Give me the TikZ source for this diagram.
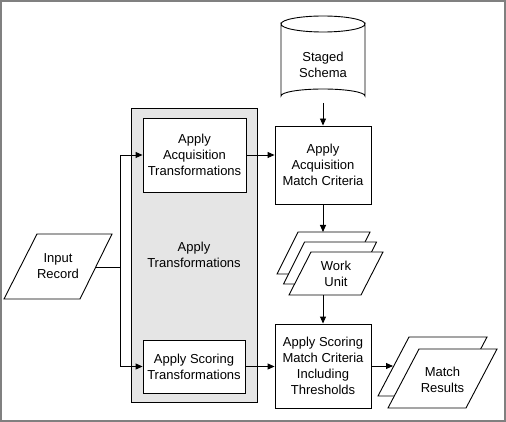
\documentclass[tikz,border=0pt]{standalone}
\usepackage{fontspec}
\setmainfont{Liberation Sans}
\usetikzlibrary{arrows.meta,positioning}

\begin{document}
\begin{tikzpicture}[x=1pt,y=-1pt,line width=.9pt,
  every node/.style={font=\fontsize{13}{16}\selectfont,align=center},
  box/.style={draw,fill=white,inner sep=0pt},
  arr/.style={-{Triangle[length=7pt,width=6pt]}}]
\useasboundingbox (0,0) rectangle (506,422);
\draw[gray,line width=2pt] (1,1) rectangle (505,421);
% staged schema
\draw[fill=white] (281,24) -- (281,96) arc[start angle=180,end angle=360,x radius=42,y radius=7]
  -- (365,24) arc[start angle=0,end angle=180,x radius=42,y radius=8] -- cycle;
\draw (281,24) arc[start angle=180,end angle=360,x radius=42,y radius=8];
\node (ss) at (323,65) {Staged\\Schema};
\coordinate (ss-b) at (323,103);
% transformations
\node[box,fill=black!10,minimum width=126pt,minimum height=294pt] (trans) at (194,255) {Apply\\Transformations};
\node[box,minimum width=103pt,minimum height=74pt] (aat) at (194.5,155) {Apply\\Acquisition\\Transformations};
\node[box,minimum width=102pt,minimum height=53pt] (ast) at (194,366.5) {Apply Scoring\\Transformations};
\node[box,minimum width=96pt,minimum height=78pt] (aamc) at (323,165) {Apply\\Acquisition\\Match Criteria};
\node[box,minimum width=96pt,minimum height=84pt] (asmc) at (323,366) {Apply Scoring\\Match Criteria\\Including\\Thresholds};
% input record
\draw[fill=white] (37,234) -- (112,234) -- (80,299) -- (4,299) -- cycle;
\node (inrec) at (58,266) {Input\\Record};
\coordinate (inrec-e) at (96,267);
\coordinate (split) at (120,267);
% work unit
\draw[fill=white] (298,232) -- (370,232) -- (349,274) -- (277,274) -- cycle;
\draw[fill=white] (304.5,242) -- (376.5,242) -- (355.5,284) -- (283.5,284) -- cycle;
\draw[fill=white] (311,252) -- (383,252) -- (361,295) -- (289,295) -- cycle;
\node (wu) at (336,274) {Work\\Unit};
\coordinate (wu-t) at (323,232);
\coordinate (wu-b) at (323,295);
% match results
\draw[fill=white] (409,337) -- (487,337) -- (456,396) -- (378,396) -- cycle;
\draw[fill=white] (419,349) -- (497,349) -- (466,408) -- (388,408) -- cycle;
\node (mr) at (442.5,380) {Match\\Results};
\coordinate (mr-w) at (393,366);
% connectors
\draw (inrec-e) -- (split);
\draw[arr] (split) |- (aat.west);
\draw[arr] (split) |- (ast.west);
\draw[arr] (aat.east) -- (aat.east -| aamc.west);
\draw[arr] (ast.east) -- (ast.east -| asmc.west);
\draw[arr] (ss-b) -- (aamc.north);
\draw[arr] (aamc.south) -- (wu-t);
\draw[arr] (wu-b) -- (asmc.north);
\draw[arr] (asmc.east) -- (mr-w);
\end{tikzpicture}
\end{document}
